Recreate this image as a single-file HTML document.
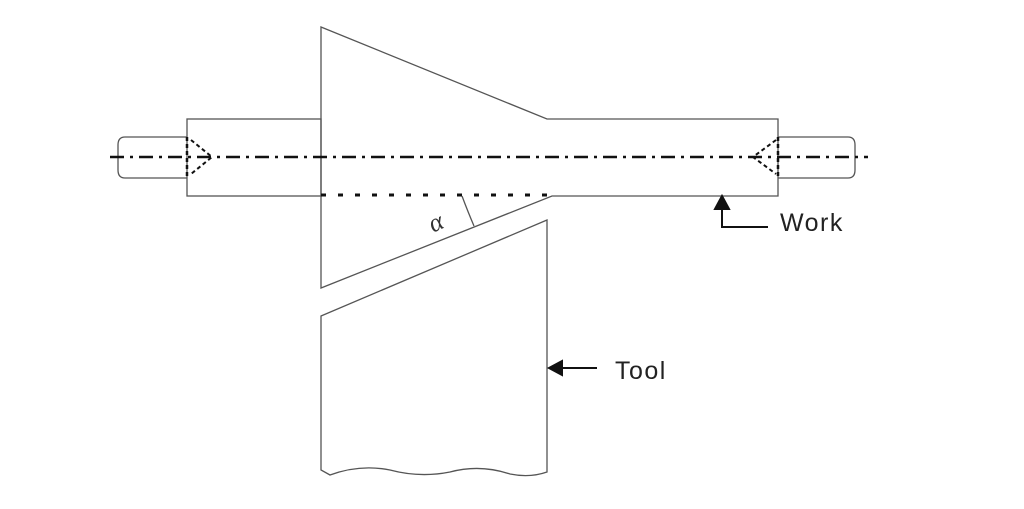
<!DOCTYPE html>
<html><head><style>body{margin:0;background:#fff}svg{display:block}</style></head><body>
<svg width="1024" height="509" viewBox="0 0 1024 509" xmlns="http://www.w3.org/2000/svg">
<g fill="none" stroke="#555" stroke-width="1.3">
<path d="M187,137 H125 Q118,137 118,145 V170 Q118,178 125,178 H187"/>
<rect x="187" y="119" width="134" height="77"/>
<path d="M321,27 L547,119 H778 V196 H552 L321,288 Z"/>
<path d="M778,137 H848 Q855,137 855,145 V170 Q855,178 848,178 H778"/>
<path d="M321,316 L547,220 V472 Q530,478 510,474 Q480,464 450,472 Q420,478 390,470 Q360,464 330,475 L321,470 Z"/>
<path d="M462,196 Q468,212 474,226"/>
</g>
<g stroke="#111" stroke-width="2.5" fill="none">
<path d="M110,157 H868" stroke-dasharray="14,6,3,6"/>
<path d="M321,195 H552" stroke-dasharray="5,12" stroke-width="3"/>
<path d="M187,137 V178" stroke-dasharray="4,3"/>
<path d="M778,137 V178" stroke-dasharray="4,3"/>
<path d="M191,140 L212,157 L191,174" stroke-dasharray="4,3" stroke-width="2"/>
<path d="M776,140 L753,157 L776,174" stroke-dasharray="4,3" stroke-width="2"/>
</g>
<g stroke="#111" stroke-width="2" fill="#111">
<path d="M722,206 V227 H768" fill="none"/>
<path d="M722,196 L715,209 L729,209 Z"/>
<path d="M597,368 H556" fill="none"/>
<path d="M549,368 L562,361 L562,375 Z"/>
</g>
<text x="428" y="230" font-family="Liberation Serif, serif" font-style="italic" font-size="26" fill="#333" transform="rotate(-25 437 220)">α</text>
<text x="780" y="231" font-family="Liberation Sans, sans-serif" font-size="25" letter-spacing="1.5" fill="#222">Work</text>
<text x="615" y="379" font-family="Liberation Sans, sans-serif" font-size="25" letter-spacing="1.5" fill="#222">Tool</text>
</svg>
</body></html>
